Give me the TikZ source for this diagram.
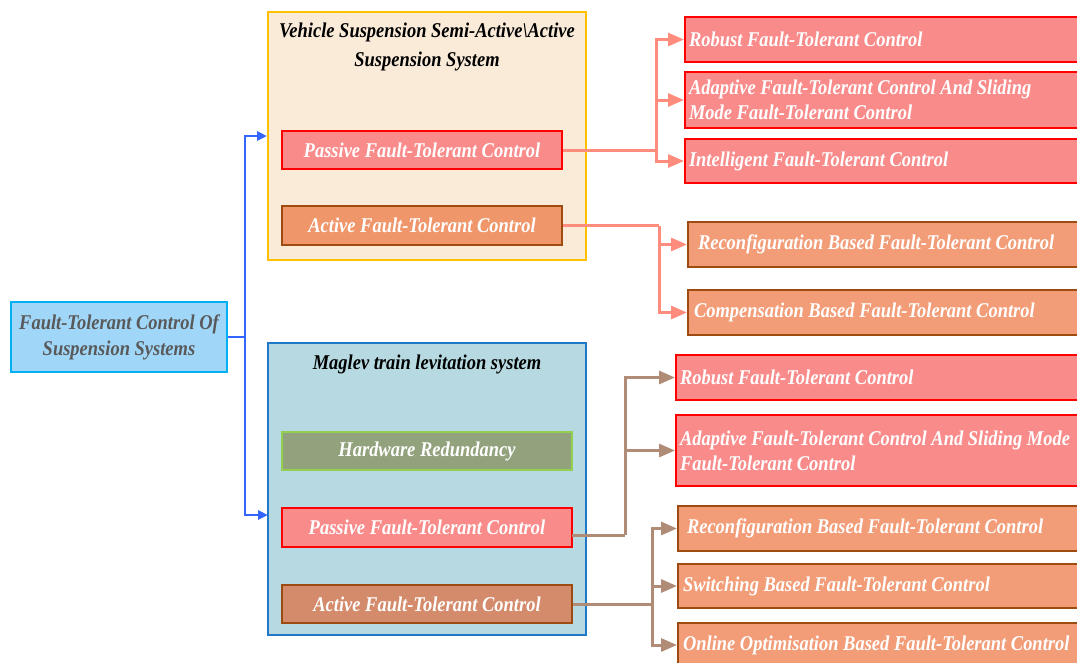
\documentclass[tikz,border=0pt]{standalone}
\usepackage{fontspec}
\setmainfont{Liberation Serif}[FakeStretch=0.88]
\usetikzlibrary{arrows.meta}

\definecolor{rootfill}{HTML}{A0D7F9}
\definecolor{rootline}{HTML}{00B0F0}
\definecolor{roottext}{HTML}{595959}
\definecolor{vsfill}{HTML}{FAEBD9}
\definecolor{vsline}{HTML}{FFC000}
\definecolor{mlfill}{HTML}{B7DAE2}
\definecolor{mlline}{HTML}{1F78C8}
\definecolor{pasfill}{HTML}{F98B8B}
\definecolor{pasline}{HTML}{FF0000}
\definecolor{actfill}{HTML}{F0966B}
\definecolor{actfilldk}{HTML}{D48B6C}
\definecolor{actline}{HTML}{9E4B12}
\definecolor{orgfill}{HTML}{F29D78}
\definecolor{hwfill}{HTML}{92A27C}
\definecolor{hwline}{HTML}{92D050}
\definecolor{blueconn}{HTML}{3366FF}
\definecolor{salmconn}{HTML}{FF8C7C}
\definecolor{brownconn}{HTML}{B08B76}

\begin{document}
\begin{tikzpicture}[x=1pt,y=-1pt,
  every node/.style={font=\fontsize{21}{26}\selectfont\bfseries\itshape, inner sep=0pt},
  container/.style={draw, line width=2pt, minimum width=318pt},
  inbox/.style={draw, line width=2pt, text=white, minimum height=38pt},
  pasbox/.style={inbox, fill=pasfill, draw=pasline},
  rbox/.style={anchor=west, draw, line width=2pt, text=white, inner xsep=#1,
    text width=410pt, align=flush left},
  tipA/.style={-{Triangle[length=16pt,width=13pt]}},
  blueline/.style={draw=blueconn, line width=2.7pt, -{Triangle[length=10pt,width=9pt]}},
  salmline/.style={draw=salmconn, line width=3pt},
  brownline/.style={draw=brownconn, line width=3pt}
]
\useasboundingbox (0,0) rectangle (1077,662);
\clip (0,0) rectangle (1077,662);

% root of the tree
\node[draw=rootline, fill=rootfill, line width=2pt, text=roottext,
      minimum width=216pt, minimum height=70pt, align=center]
  (root) at (119,337) {Fault-Tolerant Control Of\\Suspension Systems};

% vehicle suspension group
\node[container, draw=vsline, fill=vsfill, minimum height=248pt] (vs) at (427,136) {};
\node[align=center, font=\fontsize{21}{29}\selectfont\bfseries\itshape] (vstitle) at (427,47)
  {Vehicle Suspension Semi-Active\textbackslash Active\\Suspension System};
\node[pasbox, minimum width=280pt] (pf1) at (422,150) {Passive Fault-Tolerant Control};
\node[inbox, fill=actfill, draw=actline, minimum width=280pt, minimum height=39pt]
  (af1) at (422,225.5) {Active Fault-Tolerant Control};

% maglev group
\node[container, draw=mlline, fill=mlfill, minimum height=292pt] (ml) at (427,489) {};
\node (mltitle) at (427,364) {Maglev train levitation system};
\node[inbox, fill=hwfill, draw=hwline, minimum width=290pt] (hw) at (427,451) {Hardware Redundancy};
\node[pasbox, minimum width=290pt, minimum height=39pt] (pf2) at (427,527.5) {Passive Fault-Tolerant Control};
\node[inbox, fill=actfilldk, draw=actline, minimum width=290pt] (af2) at (427,604) {Active Fault-Tolerant Control};

% leaf methods, vehicle suspension
\node[rbox=4pt, fill=pasfill, draw=pasline, minimum height=45pt] (rb1) at (684,39.5) {Robust Fault-Tolerant Control};
\node[rbox=4pt, fill=pasfill, draw=pasline, minimum height=56pt, font=\fontsize{21}{25}\selectfont\bfseries\itshape]
  (ad1) at (684,100) {Adaptive Fault-Tolerant Control And Sliding\\Mode Fault-Tolerant Control};
\node[rbox=4pt, fill=pasfill, draw=pasline, minimum height=44pt] (in1) at (684,161) {Intelligent Fault-Tolerant Control};
\node[rbox=10pt, fill=orgfill, draw=actline, minimum height=45pt] (rc1) at (687,244.5) {Reconfiguration Based Fault-Tolerant Control};
\node[rbox=6pt, fill=orgfill, draw=actline, minimum height=45pt] (cp1) at (687,312.5) {Compensation Based Fault-Tolerant Control};

% leaf methods, maglev
\node[rbox=4pt, fill=pasfill, draw=pasline, minimum height=45pt] (rb2) at (675,377.5) {Robust Fault-Tolerant Control};
\node[rbox=4pt, fill=pasfill, draw=pasline, minimum height=71pt, font=\fontsize{21}{25}\selectfont\bfseries\itshape]
  (ad2) at (675,450.5) {Adaptive Fault-Tolerant Control And Sliding Mode\\Fault-Tolerant Control};
\node[rbox=9pt, fill=orgfill, draw=actline, minimum height=45pt] (rc2) at (677,528.5) {Reconfiguration Based Fault-Tolerant Control};
\node[rbox=5pt, fill=orgfill, draw=actline, minimum height=44pt] (sw2) at (677,586) {Switching Based Fault-Tolerant Control};
\node[rbox=5pt, fill=orgfill, draw=actline, minimum height=44pt] (ol2) at (677,645) {Online Optimisation Based Fault-Tolerant Control};

% junction points of the connectors
\coordinate (bj) at (245,337);
\coordinate (mlin) at (268,515);
\coordinate (j1) at (656,150);
\coordinate (j2) at (659,225.5);
\coordinate (p2out) at (572,535);
\coordinate (j3) at (625,535);
\coordinate (j4) at (652,604);

% root to groups
\draw[blueline] (root.east) -- (bj) |- (vs.west);
\draw[blueline] (bj) |- (mlin);

% vehicle suspension branches
\draw[salmline] (pf1.east) -- (j1);
\draw[salmline, tipA] (j1) |- (rb1.west);
\draw[salmline, tipA] (j1 |- ad1.west) -- (ad1.west);
\draw[salmline, tipA] (j1) |- (in1.west);
\draw[salmline] (af1.east) -- (j2);
\draw[salmline, tipA] (j2) |- (rc1.west);
\draw[salmline, tipA] (j2) |- (cp1.west);

% maglev branches
\draw[brownline] (p2out) -- (j3);
\draw[brownline, tipA] (j3) |- (rb2.west);
\draw[brownline, tipA] (j3 |- ad2.west) -- (ad2.west);
\draw[brownline] (af2.east) -- (j4);
\draw[brownline, tipA] (j4) |- (rc2.west);
\draw[brownline, tipA] (j4) -- (j4 |- sw2.west) -- (sw2.west);
\draw[brownline, tipA] (j4) |- (ol2.west);
\end{tikzpicture}
\end{document}
